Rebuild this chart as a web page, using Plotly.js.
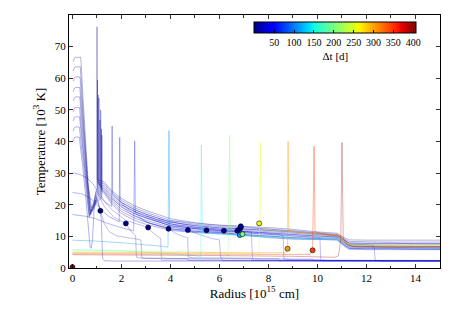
<!DOCTYPE html>
<html><head><meta charset="utf-8">
<script src="https://cdn.plot.ly/plotly-3.0.1.min.js"></script>
<style>html,body{margin:0;padding:0;background:#fff}#chart{width:463px;height:309px}</style>
</head><body><div id="chart"></div>
<script>
// ---- unshocked CSM temperature bundle (radius grid, 10^15 cm ; T in 10^3 K)
const csmR  = [1.3,1.6,2,2.5,3,4,5,6,7,8,9,10,10.8,11.1,11.3,12,13,14,15];
const csmT1 = [27.2,24.5,22.0,19.8,18.2,15.6,14.3,13.5,13.1,12.8,12.2,11.4,11.0,9.6,8.9,8.8,8.8,8.8,8.8];
const csmT2 = [26.6,23.9,21.4,19.2,17.6,15.0,13.8,13.1,12.7,12.3,11.8,11.1,10.7,9.2,8.4,8.3,8.2,8.2,8.2];
const csmT3 = [26.0,23.2,20.7,18.6,17.0,14.5,13.4,12.7,12.3,11.9,11.4,10.8,10.4,8.8,7.9,7.8,7.8,7.7,7.7];
const csmT4 = [25.4,22.6,20.0,18.0,16.4,13.9,12.9,12.3,11.9,11.5,11.0,10.5,10.1,8.4,7.5,7.4,7.3,7.3,7.3];
const csmT5 = [24.9,22.0,19.3,17.3,15.8,13.4,12.5,11.9,11.5,11.1,10.6,10.1,9.8,8.0,7.0,6.9,6.9,6.8,6.8];
const csmT6 = [24.4,21.4,18.6,16.6,15.1,12.9,12.0,11.5,11.1,10.6,10.1,9.7,9.5,7.6,6.6,6.5,6.5,6.4,6.4];
const csmT7 = [24.0,20.8,17.9,15.9,14.5,12.4,11.6,11.2,10.6,10.1,9.6,9.3,9.2,7.2,6.2,6.1,6.1,6.0,6.0];
const csmT8 = [23.6,20.2,17.2,15.2,13.8,11.9,11.2,10.9,10.3,9.6,9.1,9.0,8.9,6.8,5.9,5.8,5.8,5.8,5.8];

// ---- early profiles (inner part, before joining the CSM bundle)
const e1R = [0.03,0.08,0.12,0.34,0.5,0.65,0.78,0.88,0.97,1.0,1.003,1.01,1.15];
const e1T = [65.2,66.4,66.6,66.6,45,26,19,21,24.5,25,76.3,28,27.6];
const e2R = [0.03,0.08,0.12,0.32,0.48,0.63,0.76,0.87,0.96,1.02,1.023,1.03,1.15];
const e2T = [62.2,63.4,63.6,63.6,44,27,18,20,24,24.5,59.4,27,26.9];
const e3R = [0.03,0.08,0.12,0.31,0.47,0.62,0.74,0.86,0.98,1.05,1.053,1.06,1.16];
const e3T = [59.0,60.2,60.4,60.4,43,27,17.5,20,23.5,24,54.7,26.5,26.3];
const e4R = [0.03,0.08,0.12,0.30,0.46,0.60,0.72,0.85,1.0,1.08,1.083,1.09,1.18];
const e4T = [55.7,56.9,57.1,57.1,42,28,18,19.5,23,23.8,53.7,26.2,25.8];
const e5R = [0.03,0.08,0.12,0.30,0.45,0.60,0.72,0.85,1.0,1.12,1.123,1.13,1.2];
const e5T = [52.7,53.9,54.1,54.1,40,27,17,19,22.5,23.5,46.8,25.6,25.3];
const e6R = [0.03,0.08,0.12,0.29,0.44,0.58,0.70,0.84,1.0,1.15,1.153,1.16,1.22];
const e6T = [49.3,50.5,50.7,50.7,38,27,17,19,22,23,50,25.1,24.8];
const e7R = [0.03,0.08,0.12,0.29,0.43,0.57,0.69,0.83,1.0,1.18,1.183,1.19,1.24];
const e7T = [46.4,47.6,47.8,47.8,37,26,16.5,18.5,21.5,22.5,44,24.6,24.3];
const e8R = [0.03,0.08,0.12,0.28,0.42,0.56,0.68,0.82,1.0,1.2,1.203,1.21,1.26];
const e8T = [43.2,44.4,44.6,44.6,35,25,16,18,21,22,42,24.1,23.8];
const e9R = [0.03,0.08,0.12,0.28,0.42,0.55,0.66,0.72,0.77,0.82,0.88,0.95,1.05,1.14,1.18,1.21,1.23,1.3,1.6,2.0,15];
const e9T = [40.0,41.2,41.4,41.4,32,22,12,6.8,6.2,9,18,21.5,20.5,18.1,15,8,3.0,2.3,2.2,2.2,2.1];

// ---- profiles with shock spikes at 1.6 - 2.5
const p1R = [0,0.3,0.6,0.85,1.0,1.2,1.4,1.6,1.62,1.64,1.8];
const p1T = [30.1,29.6,28.5,26.5,24.5,22,20.5,19.5,44.9,23.3,22.2];
const p2R = [0,0.4,0.7,0.95,1.2,1.5,1.8,1.91,1.93,1.95,2.2];
const p2T = [23.9,23.4,22.2,20.5,18.2,16.2,15,14.6,41.3,20.9,19.0];
const p3R = [0,0.5,0.95,1.4,1.8,2.2,2.5,2.54,2.57,2.75];
const p3T = [16.9,16.4,15.6,14.2,13.2,12.3,11.8,40.2,17.5,16.0];

// ---- step-shaped profiles
const s1R = [0.95,1.05,1.14,1.3,1.5,1.8,2.2,2.6,2.8,2.83,3.0,4.7,4.73,15];
const s1T = [22.5,21,18.1,14,11.5,10.2,9.6,9.2,8.8,3.3,3.1,3.0,2.4,2.3];
const s2R = [1.0,1.3,1.7,2.18,2.35,2.5,2.58,2.61,2.8,3.6,3.63,15];
const s2T = [24,19.5,16,14.1,12,10.8,10.3,3.4,3.1,3.0,2.5,2.4];
const s3R = [1.2,1.6,2.2,3.09,3.3,3.5,3.6,3.63,3.9,6.1,6.15,15];
const s3T = [22,18.5,15,12.8,11,9.9,9.4,3.2,3.0,2.9,2.3,2.2];
const s4R = [1.6,2.4,3.2,3.92,4.2,4.5,4.7,4.73,5,7.3,7.33,15];
const s4T = [22,17,14,12.4,11,10,9.6,3.4,3.2,3.1,2.4,2.3];
const s5R = [2.0,3,4,4.71,5.2,5.7,6.0,6.05,6.3,8.4,8.43,15];
const s5T = [20,16,13.3,12.0,10.5,9.3,8.9,3.2,3.0,2.9,2.3,2.2];
const s6R = [2.5,3.5,4.5,5.47,6.2,7.0,7.3,7.35,7.6,9.8,9.83,15];
const s6T = [18,15,13,11.9,11.6,11.5,11.3,3.0,2.9,2.8,2.3,2.2];
const s7R = [3,4,5,6.18,7,8,8.5,8.6,8.63,9,10.1,10.13,15];
const s7T = [16.5,14,12.8,11.8,11.2,10.7,10.4,10.2,2.8,2.6,2.6,2.3,2.3];
const s8R = [3.5,5,6.73,8,9,9.9,10.1,10.13,10.5,15];
const s8T = [15.5,13,11.8,10.9,10.2,9.7,9.5,2.6,2.4,2.3];
const s9R = [4,5.5,6.87,8,9,10,10.9,11.1,11.3,12,12.3,12.36,12.6,15];
const s9T = [15,13.8,13.2,12.3,11.6,11,10.3,8.8,7.6,7.3,7.1,2.4,2.2,2.2];

// ---- later (coloured) profiles
const c1R = [0,1,2,3,3.5,3.9,3.94,3.97,4.2,5,6,7,8,9,10,10.8,11.1,11.3,13,15];
const c1T = [8.8,8.5,8.0,7.3,7.0,6.6,43.5,12.5,12.0,11.3,10.8,10.3,9.8,9.3,9.1,8.9,7.2,6.4,6.3,6.2];
const c2R = [0,2,4,5.0,5.2,5.24,5.26,5.3,5.6,6,7,8,9,10,10.9,11.15,11.4,13,15];
const c2T = [5.8,5.5,4.5,3.9,3.6,3.5,38.9,11.2,10.9,10.6,10.2,9.8,9.4,9.1,8.8,7.4,6.8,6.7,6.7];
const c3R = [0,2,4,5.5,6.2,6.35,6.42,6.46,7,8,9,10,10.9,11.15,11.4,13,15];
const c3T = [5.5,5.4,5.2,5.0,4.9,3.7,42,11.5,10.9,10.3,9.9,9.5,9.2,7.6,7.1,7.0,7.0];
const c4R = [0,3,6,7.5,7.62,7.67,7.7,7.8,8,9,10,10.9,11.15,11.4,13,15];
const c4T = [5.1,5.0,4.9,4.6,4.0,39.6,14.5,12.4,12.0,11.5,10.9,10.5,8.0,7.3,7.2,7.2];
const c5R = [0,4,7.6,8.7,8.78,8.8,8.83,9,10,10.9,11.15,11.4,13,15];
const c5T = [4.9,4.8,4.8,4.8,6.1,40.1,12,11.4,10.8,10.3,7.8,7.0,6.9,6.9];
const c6R = [0,5,8.5,9.7,9.8,9.86,9.9,10.3,10.9,11.15,11.4,13,15];
const c6T = [4.5,4.4,4.3,4.3,5.6,38.5,11.5,10.6,10.0,7.6,6.8,6.6,6.6];
const c7R = [0,5,9,10.7,10.85,10.9,10.95,11.0,11.05,11.2,11.5,13,15];
const c7T = [4.2,4.0,3.7,3.4,3.8,6,9,39.7,9.5,7.5,6.8,6.6,6.6];

// ---- photosphere markers
const dotR  = [0.0,1.14,2.18,3.09,3.92,4.71,5.47,6.18,6.73,6.83,6.87,6.87,6.83,6.94,7.62,8.78,9.8];
const dotT  = [0.3,18.1,14.1,12.8,12.4,12.0,11.9,11.8,11.8,12.4,12.8,13.2,10.4,10.7,14.1,6.1,5.6];
const dotDt = [400,2,3,4,5,6,7,8,9,10,10,10,120,200,260,305,345];

const xTicks = [0,2,4,6,8,10,12,14];
const yTicks = [0,10,20,30,40,50,60,70];
const cbTicks = [50,100,150,200,250,300,350,400];
const DT_MAX = 408;
const FONT = 'Liberation Serif, DejaVu Serif, serif';

const jetScale = [[0,'rgb(0,0,128)'],[0.11,'rgb(0,0,255)'],[0.125,'rgb(0,0,255)'],[0.34,'rgb(0,219,255)'],[0.35,'rgb(0,229,247)'],[0.375,'rgb(21,255,226)'],[0.64,'rgb(239,255,8)'],[0.65,'rgb(247,245,0)'],[0.66,'rgb(255,236,0)'],[0.89,'rgb(255,19,0)'],[0.91,'rgb(232,0,0)'],[1,'rgb(128,0,0)']];

function jetColor(dt, alpha){
  const f = Math.max(0, Math.min(1, dt/DT_MAX));
  for (let i=1;i<jetScale.length;i++){
    if (f <= jetScale[i][0]){
      const a = jetScale[i-1], b = jetScale[i];
      const ca = a[1].match(/\d+/g).map(Number), cb = b[1].match(/\d+/g).map(Number);
      const u = (f - a[0])/(b[0]-a[0] || 1);
      const c = ca.map((v,k)=>Math.round(v + (cb[k]-v)*u));
      return `rgba(${c[0]},${c[1]},${c[2]},${alpha})`;
    }
  }
  return `rgba(128,0,0,${alpha})`;
}

const traces = [];
function addLine(R, T, dt, alpha){
  traces.push({type:'scatter', mode:'lines', x:R, y:T, hoverinfo:'skip', showlegend:false,
    line:{color:jetColor(dt, alpha||0.38), width:0.8, simplify:false}});
}
const early = [[e1R,e1T,csmT1,2],[e2R,e2T,csmT2,4],[e3R,e3T,csmT3,6],[e4R,e4T,csmT4,8],
               [e5R,e5T,csmT5,10],[e6R,e6T,csmT6,12],[e7R,e7T,csmT7,14],[e8R,e8T,csmT8,16]];
early.forEach(([r,t,c,dt]) => addLine(r.concat(csmR), t.concat(c), dt));
addLine(e9R, e9T, 18);
[[s1R,s1T,8],[s2R,s2T,12],[s3R,s3T,18],[s4R,s4T,24],[s5R,s5T,30],[s6R,s6T,36],[s7R,s7T,42],[s8R,s8T,48],[s9R,s9T,20]]
  .forEach(([r,t,dt]) => addLine(r, t, dt, 0.32));
addLine(p1R.concat(csmR.slice(2)), p1T.concat(csmT3.slice(2)), 30);
addLine(p2R.concat(csmR.slice(3)), p2T.concat(csmT5.slice(3)), 45);
addLine(p3R.concat(csmR.slice(4)), p3T.concat(csmT7.slice(4)), 55);
addLine(c1R, c1T, 110, 0.45);
addLine(c2R, c2T, 150, 0.4);
addLine(c3R, c3T, 205, 0.4);
addLine(c4R, c4T, 260, 0.45);
addLine(c5R, c5T, 305, 0.5);
addLine(c6R, c6T, 345, 0.5);
addLine(c7R, c7T, 398, 0.4);

traces.push({type:'scatter', mode:'markers', x:dotR, y:dotT, hoverinfo:'skip', showlegend:false,
  marker:{size:5, color:dotDt, colorscale:jetScale, cmin:0, cmax:DT_MAX,
    line:{color:'black', width:0.6}, showscale:true,
    colorbar:{orientation:'h', x:0.718, xanchor:'center', y:0.971, yanchor:'top',
      len:162, lenmode:'pixels', thickness:11, thicknessmode:'pixels',
      outlinewidth:1, outlinecolor:'black', xpad:0, ypad:0,
      tickvals:cbTicks, ticktext:cbTicks.map(String), ticks:'inside', ticklen:3, tickcolor:'black',
      tickfont:{family:FONT, size:10, color:'black'},
      title:{text:'Δt [d]', side:'bottom', font:{family:FONT, size:11, color:'black'}}}}});

const axisCommon = {showgrid:false, zeroline:false, showline:true, linecolor:'black', linewidth:1,
  mirror:'ticks', ticks:'inside', ticklen:4, tickwidth:0.8, tickcolor:'black',
  tickfont:{family:FONT, size:11, color:'black'}};

const layout = {
  width:463, height:309, margin:{l:69, r:23, t:15, b:41},
  paper_bgcolor:'white', plot_bgcolor:'white',
  font:{family:FONT, color:'black'},
  xaxis:Object.assign({}, axisCommon, {range:[-0.14,15], tickvals:xTicks,
    minor:{tickvals:[1,3,5,7,9,11,13,15], ticks:'inside', ticklen:2.5, tickcolor:'black', tickwidth:0.8},
    title:{text:'Radius [10<sup>15</sup> cm]', font:{family:FONT, size:13, color:'black'}, standoff:2}}),
  yaxis:Object.assign({}, axisCommon, {range:[0,80], tickvals:yTicks,
    title:{text:'Temperature [10<sup>3</sup> K]', font:{family:FONT, size:13, color:'black'}, standoff:6}}),
  showlegend:false
};
Plotly.newPlot('chart', traces, layout, {staticPlot:true, displayModeBar:false});
</script>
</body></html>
